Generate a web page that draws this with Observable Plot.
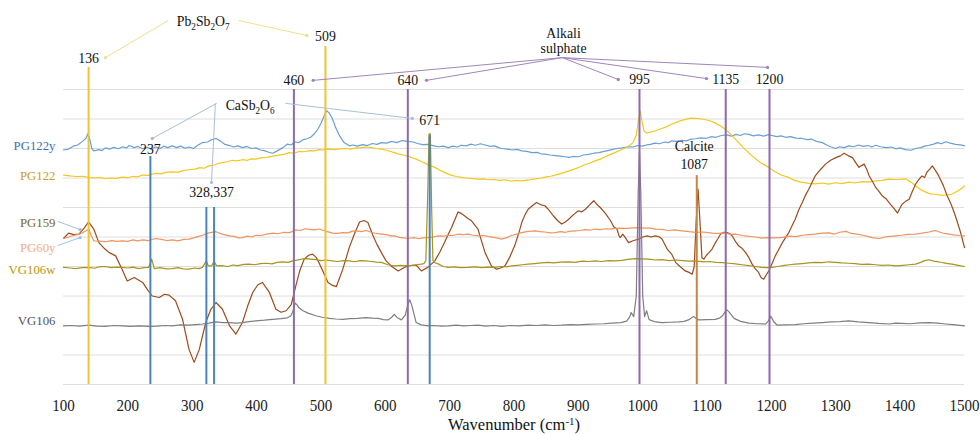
<!DOCTYPE html>
<html><head><meta charset="utf-8">
<script src="https://cdn.jsdelivr.net/npm/d3@7"></script>
<script src="https://cdn.jsdelivr.net/npm/@observablehq/plot@0.6"></script>
<style>html,body{margin:0;padding:0;background:#fff} svg{display:block}</style>
</head><body><div id="chart"></div>
<script>
// Raman spectra (wavenumber cm-1, stacked intensity in arbitrary offset units)
const PG122y = [[100,7.95],[108,7.98],[115,8.08],[122,8.12],[130,8.25],[135,8.35],[138,8.52],[141,8.3],[144,8.0],[147,7.92],[155,7.96],[160,7.93],[165,8.02],[172,7.98],[178,8.04],[185,7.99],[192,8.06],[198,8.02],[202,8.1],[210,8.03],[216,8.07],[223,7.99],[230,8.04],[236,7.98],[243,8.05],[250,8.0],[256,8.08],[262,8.03],[269,8.09],[276,8.03],[282,8.08],[289,8.01],[295,8.05],[302,8.0],[308,8.1],[316,8.2],[324,8.22],[330,8.3],[337,8.34],[344,8.25],[350,8.15],[358,8.1],[364,8.05],[371,8.09],[378,8.03],[385,8.07],[392,8.0],[399,8.02],[406,7.95],[412,7.93],[418,7.88],[425,7.84],[432,7.92],[441,8.03],[448,8.15],[454,8.12],[459,8.23],[466,8.2],[472,8.3],[477,8.32],[484,8.38],[490,8.5],[495,8.65],[500,8.85],[505,9.1],[509,9.28],[513,9.2],[518,9.0],[523,8.7],[529,8.43],[536,8.2],[544,8.09],[550,8.12],[556,8.08],[565,8.13],[572,8.1],[580,8.17],[587,8.14],[594,8.2],[602,8.18],[610,8.24],[618,8.2],[626,8.27],[635,8.24],[643,8.22],[650,8.17],[658,8.13],[666,8.14],[674,8.1],[682,8.06],[690,8.08],[698,8.03],[705,8.08],[712,8.05],[718,8.11],[726,8.09],[733,8.15],[740,8.11],[748,8.16],[755,8.12],[763,8.07],[770,8.09],[776,8.03],[781,8.0],[790,7.98],[797,7.95],[805,7.97],[812,7.92],[820,7.9],[828,7.86],[836,7.87],[842,7.82],[848,7.81],[856,7.78],[864,7.76],[872,7.74],[880,7.72],[885,7.7],[892,7.73],[900,7.72],[908,7.78],[916,7.8],[924,7.84],[932,7.86],[940,7.9],[946,7.93],[952,7.96],[960,8.0],[968,8.02],[978,8.06],[985,8.05],[992,8.1],[999,8.08],[1006,8.12],[1012,8.14],[1019,8.18],[1026,8.16],[1034,8.22],[1040,8.2],[1045,8.26],[1052,8.24],[1060,8.28],[1068,8.26],[1075,8.32],[1082,8.33],[1090,8.36],[1098,8.34],[1106,8.4],[1114,8.38],[1122,8.44],[1131,8.46],[1138,8.42],[1145,8.48],[1152,8.44],[1158,8.5],[1165,8.48],[1172,8.43],[1180,8.46],[1188,8.42],[1195,8.47],[1201,8.44],[1208,8.4],[1215,8.43],[1222,8.38],[1230,8.4],[1238,8.35],[1248,8.34],[1255,8.3],[1262,8.32],[1270,8.24],[1279,8.2],[1286,8.12],[1293,8.05],[1300,8.0],[1306,8.06],[1313,8.03],[1320,8.09],[1328,8.06],[1335,8.12],[1342,8.07],[1350,8.1],[1356,8.05],[1362,8.11],[1370,8.06],[1378,8.03],[1386,8.05],[1393,7.99],[1400,8.02],[1408,7.96],[1417,7.94],[1424,8.0],[1432,8.03],[1438,8.08],[1445,8.11],[1452,8.15],[1458,8.2],[1464,8.16],[1471,8.23],[1478,8.18],[1486,8.14],[1493,8.12],[1500,8.1]];
const PG122 = [[100,7.1],[110,7.07],[120,7.05],[130,7.06],[139,7.02],[148,7.0],[156,7.02],[165,6.98],[174,7.0],[182,6.99],[191,7.03],[200,7.01],[208,7.06],[215,7.04],[223,7.1],[232,7.09],[243,7.16],[252,7.14],[260,7.2],[269,7.21],[278,7.19],[286,7.25],[295,7.28],[304,7.3],[312,7.35],[319,7.33],[326,7.41],[335,7.44],[341,7.5],[347,7.52],[355,7.55],[362,7.6],[370,7.58],[378,7.62],[386,7.6],[392,7.65],[399,7.64],[408,7.69],[416,7.7],[425,7.74],[433,7.77],[442,7.8],[451,7.86],[458,7.84],[466,7.9],[474,7.89],[482,7.93],[490,7.92],[497,7.96],[503,7.95],[511,7.98],[520,7.96],[529,7.99],[538,8.0],[546,7.98],[555,8.02],[562,8.03],[570,8.05],[578,8.03],[586,8.0],[594,7.98],[602,7.94],[608,7.9],[614,7.86],[620,7.82],[628,7.78],[635,7.74],[642,7.68],[649,7.63],[656,7.56],[664,7.48],[670,7.42],[677,7.36],[684,7.27],[691,7.2],[698,7.13],[705,7.08],[711,7.05],[718,7.02],[726,7.0],[735,6.98],[744,6.96],[752,6.97],[760,6.94],[770,6.95],[778,6.92],[786,6.94],[796,6.89],[804,6.92],[812,6.9],[820,6.93],[827,6.95],[833,6.97],[842,7.0],[850,7.04],[857,7.06],[864,7.1],[872,7.15],[880,7.2],[888,7.26],[895,7.31],[903,7.38],[910,7.45],[918,7.51],[926,7.58],[934,7.64],[942,7.72],[950,7.8],[957,7.86],[964,7.93],[971,8.0],[978,8.08],[985,8.2],[990,8.45],[993,8.9],[996,9.28],[999,8.9],[1002,8.6],[1006,8.52],[1012,8.56],[1020,8.6],[1030,8.68],[1038,8.75],[1045,8.82],[1056,8.92],[1065,8.98],[1074,9.03],[1082,9.02],[1092,9.0],[1103,8.95],[1113,8.86],[1123,8.74],[1133,8.56],[1144,8.32],[1156,8.04],[1170,7.75],[1183,7.52],[1196,7.36],[1205,7.22],[1215,7.1],[1227,7.02],[1236,6.92],[1246,6.86],[1258,6.82],[1268,6.8],[1278,6.83],[1289,6.79],[1300,6.84],[1310,6.81],[1320,6.86],[1330,6.83],[1341,6.88],[1351,6.86],[1362,6.9],[1372,6.92],[1383,6.96],[1395,6.95],[1409,6.97],[1417,6.86],[1424,6.73],[1434,6.58],[1445,6.47],[1456,6.44],[1465,6.41],[1471,6.42],[1480,6.45],[1486,6.52],[1494,6.62],[1500,6.73]];
const PG159 = [[100,4.95],[108,5.13],[116,5.08],[124,5.1],[132,5.3],[139,5.51],[147,5.27],[155,4.81],[163,4.62],[171,4.47],[181,4.36],[191,3.91],[199,3.51],[210,3.63],[223,3.46],[231,3.2],[238,3.0],[249,2.95],[257,3.06],[264,3.03],[274,2.84],[285,2.21],[295,1.19],[303,0.75],[311,1.19],[321,2.1],[329,2.55],[337,2.78],[347,2.55],[358,1.99],[368,1.71],[378,2.1],[386,2.65],[394,3.12],[402,3.38],[409,3.46],[420,3.12],[430,2.55],[438,2.45],[446,2.5],[454,2.72],[461,3.34],[467,3.85],[474,4.25],[481,4.38],[487,4.42],[493,4.3],[498,4.08],[505,3.75],[511,3.46],[518,3.36],[524,3.32],[534,3.91],[544,4.64],[552,5.1],[560,5.51],[567,5.56],[573,5.49],[581,5.04],[587,4.75],[594,4.47],[601,4.2],[609,4.02],[620,3.85],[628,3.95],[635,4.02],[648,4.05],[656,3.85],[666,3.97],[677,4.19],[685,4.5],[692,4.81],[698,5.1],[703,5.32],[713,5.85],[718,5.8],[723,5.72],[729,5.62],[734,5.55],[744,5.27],[749,4.9],[755,4.47],[765,4.02],[773,3.91],[779,3.95],[786,4.02],[793,4.3],[801,4.7],[807,5.1],[812,5.49],[817,5.75],[822,5.94],[828,6.05],[835,6.17],[841,6.1],[848,6.06],[854,5.92],[861,5.72],[868,5.55],[874,5.44],[879,5.5],[885,5.6],[892,5.75],[900,5.89],[905,5.85],[911,5.94],[918,6.1],[924,6.23],[929,6.1],[934,6.0],[942,5.8],[950,5.55],[955,5.35],[960,5.27],[963,5.05],[965,4.98],[969,5.1],[973,4.98],[978,4.81],[986,4.88],[994,4.93],[1000,5.0],[1007,5.04],[1013,5.0],[1020,5.04],[1026,5.0],[1030,4.93],[1038,4.59],[1045,4.42],[1051,4.14],[1058,4.0],[1066,3.85],[1072,3.8],[1077,3.74],[1080,4.0],[1083,5.5],[1086,6.62],[1089,5.5],[1092,4.3],[1095,4.25],[1099,4.38],[1103,4.47],[1108,4.6],[1113,4.81],[1117,4.95],[1121,5.1],[1126,5.16],[1131,5.15],[1135,5.12],[1139,5.04],[1144,4.85],[1149,4.7],[1154,4.62],[1160,4.47],[1165,4.3],[1170,4.08],[1175,3.92],[1180,3.8],[1184,3.62],[1188,3.57],[1192,3.72],[1196,3.85],[1201,4.1],[1206,4.36],[1212,4.6],[1217,4.81],[1222,4.98],[1227,5.15],[1232,5.38],[1237,5.6],[1242,5.9],[1248,6.17],[1253,6.42],[1258,6.62],[1263,6.85],[1268,7.07],[1276,7.28],[1284,7.47],[1292,7.6],[1300,7.69],[1307,7.75],[1313,7.84],[1319,7.76],[1326,7.69],[1331,7.52],[1336,7.36],[1340,7.42],[1344,7.47],[1348,7.3],[1352,7.07],[1357,6.88],[1362,6.68],[1367,6.55],[1372,6.4],[1378,6.3],[1385,6.11],[1390,5.98],[1396,5.81],[1399,5.95],[1403,6.11],[1408,6.2],[1414,6.28],[1419,6.55],[1424,6.79],[1429,6.95],[1434,7.07],[1438,7.02],[1442,7.21],[1446,7.3],[1450,7.41],[1455,7.25],[1460,7.07],[1467,6.75],[1473,6.4],[1479,6.12],[1484,5.83],[1489,5.5],[1494,5.15],[1500,4.64]];
const PG60y = [[100,4.95],[108,5.0],[115,5.05],[123,5.09],[130,5.15],[136,5.22],[139,5.27],[143,5.05],[147,4.87],[156,4.86],[165,4.84],[175,4.88],[183,4.85],[191,4.87],[200,4.85],[208,4.9],[215,4.87],[223,4.9],[232,4.88],[243,4.95],[252,4.92],[260,4.88],[269,4.9],[278,4.87],[287,4.92],[295,4.93],[304,4.98],[310,5.02],[316,5.06],[326,5.14],[337,5.18],[346,5.1],[358,5.04],[366,5.02],[372,4.97],[378,4.98],[386,5.03],[393,5.0],[399,5.06],[407,5.05],[416,5.1],[425,5.13],[434,5.11],[442,5.16],[451,5.15],[457,5.2],[461,5.24],[468,5.22],[475,5.28],[482,5.26],[490,5.24],[497,5.27],[503,5.23],[510,5.18],[518,5.13],[526,5.12],[534,5.15],[542,5.14],[549,5.2],[555,5.21],[563,5.18],[570,5.22],[578,5.16],[586,5.12],[594,5.1],[602,5.08],[609,5.04],[614,5.04],[622,4.99],[628,4.97],[635,4.95],[644,4.98],[652,4.94],[659,4.97],[666,4.98],[674,5.0],[682,5.04],[690,5.03],[698,5.06],[706,5.05],[713,5.1],[721,5.08],[729,5.1],[737,5.06],[745,5.04],[753,5.05],[760,5.02],[768,4.99],[775,4.96],[781,4.93],[789,4.98],[796,5.05],[804,5.1],[812,5.15],[820,5.18],[827,5.2],[833,5.21],[840,5.18],[848,5.17],[856,5.14],[864,5.15],[872,5.18],[880,5.16],[888,5.2],[895,5.21],[903,5.22],[910,5.25],[918,5.23],[926,5.27],[934,5.25],[942,5.28],[950,5.27],[957,5.29],[966,5.3],[975,5.29],[985,5.31],[994,5.32],[1003,5.3],[1012,5.3],[1020,5.27],[1030,5.26],[1040,5.22],[1050,5.24],[1061,5.21],[1072,5.18],[1083,5.16],[1094,5.17],[1108,5.13],[1118,5.12],[1128,5.14],[1136,5.09],[1144,5.1],[1155,5.05],[1165,5.02],[1175,5.0],[1185,4.96],[1195,4.98],[1205,4.97],[1217,4.99],[1228,5.03],[1238,5.01],[1248,5.06],[1258,5.08],[1268,5.1],[1279,5.13],[1290,5.14],[1298,5.1],[1306,5.16],[1316,5.19],[1324,5.12],[1333,5.1],[1342,5.06],[1350,5.02],[1358,4.97],[1368,4.95],[1376,5.0],[1384,5.02],[1393,5.04],[1402,5.06],[1412,5.09],[1424,5.1],[1434,5.13],[1445,5.17],[1450,5.2],[1455,5.22],[1462,5.16],[1469,5.12],[1476,5.1],[1483,5.07],[1492,5.05],[1500,5.04]];
const VG106w = [[100,3.97],[110,3.95],[119,3.93],[129,3.96],[139,3.97],[148,3.94],[156,3.99],[165,4.0],[174,3.96],[182,3.98],[191,3.97],[200,3.95],[208,3.98],[217,3.93],[225,3.96],[232,3.97],[235,4.1],[237,4.25],[239,4.1],[241,3.93],[250,3.96],[260,3.92],[269,3.93],[278,3.96],[286,3.92],[295,3.91],[304,3.95],[310,3.93],[316,3.97],[322,4.19],[325,4.02],[330,4.02],[334,4.17],[338,4.02],[346,4.03],[355,4.0],[363,4.05],[371,4.03],[380,4.07],[389,4.08],[397,4.06],[406,4.1],[415,4.11],[424,4.09],[432,4.14],[441,4.16],[449,4.14],[458,4.2],[467,4.23],[472,4.26],[477,4.27],[484,4.25],[492,4.23],[500,4.2],[509,4.22],[518,4.19],[526,4.17],[535,4.2],[544,4.19],[552,4.16],[561,4.2],[570,4.19],[578,4.17],[586,4.15],[594,4.14],[604,4.06],[614,4.02],[624,4.04],[635,4.02],[646,4.05],[656,4.08],[660,4.1],[663,4.2],[666,6.5],[668,8.5],[670,8.5],[672,6.0],[674,4.2],[678,4.12],[683,4.08],[690,4.0],[698,3.97],[707,3.99],[716,3.96],[729,3.97],[740,3.99],[750,3.96],[760,3.98],[770,3.97],[780,4.0],[788,3.99],[796,4.02],[805,4.04],[813,4.06],[822,4.08],[832,4.1],[842,4.12],[853,4.14],[862,4.12],[872,4.15],[885,4.16],[895,4.14],[906,4.18],[916,4.17],[926,4.19],[936,4.17],[947,4.2],[957,4.19],[967,4.21],[977,4.24],[988,4.27],[998,4.26],[1009,4.25],[1020,4.22],[1030,4.23],[1041,4.2],[1052,4.22],[1062,4.2],[1072,4.18],[1082,4.19],[1094,4.16],[1104,4.17],[1114,4.14],[1124,4.13],[1134,4.11],[1144,4.09],[1154,4.06],[1165,4.03],[1175,4.0],[1185,3.97],[1193,3.96],[1201,3.97],[1210,4.0],[1220,4.04],[1228,4.06],[1237,4.08],[1248,4.1],[1258,4.12],[1268,4.14],[1279,4.13],[1289,4.16],[1299,4.14],[1310,4.12],[1320,4.11],[1330,4.1],[1340,4.07],[1351,4.08],[1362,4.06],[1372,4.04],[1382,4.05],[1393,4.02],[1404,4.04],[1414,4.06],[1424,4.08],[1432,4.14],[1438,4.2],[1445,4.23],[1452,4.18],[1460,4.16],[1468,4.12],[1474,4.1],[1481,4.08],[1490,4.04],[1500,4.0]];
const VG106 = [[100,1.99],[112,2.0],[125,1.98],[139,2.01],[152,1.98],[165,1.97],[178,2.0],[191,1.99],[204,1.97],[218,1.99],[232,1.97],[245,1.98],[258,2.0],[269,1.99],[282,2.02],[295,2.01],[305,2.03],[316,2.05],[326,2.08],[337,2.12],[347,2.1],[358,2.1],[368,2.08],[378,2.1],[388,2.13],[399,2.16],[412,2.18],[425,2.21],[438,2.23],[448,2.26],[453,2.32],[456,2.45],[460,2.76],[463,2.7],[466,2.6],[472,2.5],[480,2.42],[492,2.33],[502,2.28],[513,2.24],[523,2.22],[534,2.21],[545,2.23],[557,2.24],[570,2.27],[580,2.25],[589,2.24],[597,2.2],[604,2.19],[610,2.28],[614,2.38],[619,2.26],[625,2.19],[631,2.35],[635,2.7],[638,2.87],[641,2.7],[645,2.35],[648,2.1],[656,2.02],[666,1.99],[676,2.0],[687,1.98],[698,1.99],[710,2.01],[722,1.99],[733,2.0],[744,2.01],[756,1.98],[768,2.0],[781,1.97],[794,2.0],[808,1.99],[822,2.01],[835,2.0],[848,2.02],[861,2.0],[874,2.01],[887,2.03],[900,2.02],[913,2.04],[926,2.05],[939,2.06],[952,2.08],[966,2.1],[975,2.15],[980,2.3],[982,2.44],[986,2.3],[990,3.0],[993,6.5],[995,7.92],[997,6.5],[1000,3.0],[1003,2.3],[1006,2.5],[1010,2.2],[1020,2.12],[1030,2.1],[1043,2.11],[1056,2.12],[1064,2.14],[1071,2.19],[1076,2.26],[1079,2.31],[1083,2.24],[1087,2.19],[1100,2.2],[1113,2.21],[1120,2.26],[1124,2.33],[1128,2.46],[1131,2.53],[1134,2.46],[1137,2.38],[1142,2.24],[1152,2.14],[1165,2.08],[1178,2.06],[1191,2.05],[1195,2.15],[1199,2.31],[1202,2.2],[1204,2.12],[1209,2.01],[1222,2.02],[1237,2.03],[1250,2.06],[1265,2.08],[1279,2.1],[1292,2.12],[1306,2.13],[1320,2.16],[1335,2.12],[1351,2.1],[1367,2.07],[1383,2.05],[1393,2.08],[1403,2.07],[1416,2.06],[1430,2.09],[1445,2.1],[1458,2.08],[1471,2.05],[1486,2.02],[1500,1.99]];

const seriesNames = ["PG122y","PG122","PG159","PG60y","VG106w","VG106"];
const seriesData = [PG122y, PG122, PG159, PG60y, VG106w, VG106];
const seriesLabelY = [8.1, 7.08, 5.49, 4.64, 3.9, 2.17];

// Assigned band positions (where the reference lines are drawn) and their groups
const bandPos   = [139, 235, 322, 334, 458, 507, 635, 669, 995, 1084, 1129, 1197];
const bandTop   = [10.75, 7.73, 6.0, 6.0, 10, 11.46, 10, 8.44, 10, 7.08, 10, 10];
const bandGroup = ["Pb","Ca","Ca","Ca","Alk","Pb","Alk","Ca","Alk","Cal","Alk","Alk"];

const xTicks = [100,200,300,400,500,600,700,800,900,1000,1100,1200,1300,1400,1500];

// Annotation texts (wavenumber, intensity units)
const annText = ["Pb₂Sb₂O₇","136","509","460","640","CaSb₂O₆","671","237","328,337","Alkali","sulphate","995","1135","1200","Calcite","1087"];
const annX    = [317, 139, 507, 458, 635, 390, 669, 235, 330, 877, 877, 995, 1129, 1197, 1080, 1080];
const annY    = [12.31, 11.08, 11.8, 10.31, 10.31, 9.46, 8.98, 7.97, 6.51, 11.93, 11.39, 10.34, 10.34, 10.37, 8.07, 7.49];

// Leader lines: [x1,y1,x2,y2,group]
const leaders = [
  [263,12.34,165,11.08,"Pb"],[372,12.34,478,11.83,"Pb"],
  [338,9.53,238,8.34,"Ca"],[336,9.53,330,6.85,"Ca"],[445,9.53,642,9.02,"Ca"],
  [875,11.08,488,10.31,"Alk"],[875,11.08,664,10.31,"Alk"],[875,11.08,962,10.34,"Alk"],[875,11.08,1099,10.37,"Alk"],[875,11.08,1194,10.75,"Alk"],
  [90.7,5.53,126,5.25,"lab"],[90.7,4.71,126,4.98,"lab"]
];

// ---- styles ----
const lineColor = {PG122y:"#6a9fd4", PG122:"#f2c81e", PG159:"#9a4c1c", PG60y:"#ee9460", VG106w:"#a8931e", VG106:"#7f7f7f"};
const labelColor = {PG122y:"#3f6fb0", PG122:"#c8a020", PG159:"#7c6a1c", PG60y:"#f2ae86", VG106w:"#b8960c", VG106:"#555555"};
const bandColor = {Pb:"#f2c232", Ca:"#4a84bd", Alk:"#8c6aac", Cal:"#c98545"};
const leaderColor = {Pb:"#efe08c", Ca:"#a9c0d6", Alk:"#9f86bb", lab:"#9fc3df"};

const curves = seriesNames.flatMap((n, i) => seriesData[i].map(([w, v]) => ({name: n, w, v})));
const bands = bandPos.map((w, i) => ({w, top: bandTop[i], c: bandColor[bandGroup[i]]}));
const anns = annText.map((t, i) => ({t, x: annX[i], y: annY[i]}));
const leads = leaders.map(([x1,y1,x2,y2,g]) => ({x1,y1,x2,y2,c: leaderColor[g]}));
const labs = seriesNames.map((n, i) => ({n, y: seriesLabelY[i], c: labelColor[n]}));

const font = "Liberation Serif, Times New Roman, serif";
const TICK_FS = 17.5, ANN_FS = 15.5;

const chart = Plot.plot({
  width: 980, height: 434,
  marginLeft: 63, marginRight: 16, marginTop: 89, marginBottom: 50,
  x: {domain: [100, 1500]},
  y: {domain: [0, 10], axis: null},
  color: {type: "identity"},
  style: {fontFamily: font, fontSize: "16px", color: "#222", background: "#fff", overflow: "visible"},
  marks: [
    Plot.gridY(d3.range(0, 11), {stroke: "#dedede", strokeOpacity: 1, strokeWidth: 1}),
    Plot.axisX({ticks: xTicks, tickSize: 0, tickPadding: 14, tickFormat: d => String(d), fontSize: TICK_FS, fontFamily: font, label: null, fill: "#222"}),
    ...seriesNames.map(n => Plot.line(curves.filter(d => d.name === n), {x: "w", y: "v", stroke: lineColor[n], strokeWidth: 1.2, curve: "linear"})),
    Plot.ruleX(bands, {x: "w", y1: 0, y2: "top", stroke: "c", strokeWidth: 2}),
    Plot.link(leads, {x1: "x1", y1: "y1", x2: "x2", y2: "y2", stroke: "c", strokeWidth: 1, markerEnd: "dot"}),
    Plot.text(anns, {x: "x", y: "y", text: "t", fontSize: ANN_FS, fill: "#111", fontFamily: font}),
    Plot.text(labs, {x: 100, y: "y", text: "n", fill: "c", fontSize: 12.8, textAnchor: "end", dx: -8, fontFamily: font}),
    Plot.text(["Wavenumber (cm⁻¹)"], {x: 800, y: -1.36, text: d => d, fontSize: 16.5, fill: "#111", fontFamily: font})
  ]
});

// Render Unicode sub/superscript digits as real smaller, shifted tspans
const subMap = {"₀":"0","₁":"1","₂":"2","₃":"3","₄":"4","₅":"5","₆":"6","₇":"7","₈":"8","₉":"9"};
const supMap = {"⁻":"-","¹":"1","⁰":"0","²":"2","³":"3"};
chart.querySelectorAll("text").forEach(t => {
  const s = t.textContent;
  if (![...s].some(ch => subMap[ch] || supMap[ch])) return;
  const runs = [];
  for (const ch of s) {
    const kind = subMap[ch] ? "sub" : supMap[ch] ? "sup" : "n";
    const c = subMap[ch] || supMap[ch] || ch;
    if (runs.length && runs[runs.length - 1].kind === kind) runs[runs.length - 1].s += c;
    else runs.push({kind, s: c});
  }
  while (t.firstChild) t.removeChild(t.firstChild);
  let shift = 0;
  for (const r of runs) {
    const ts = document.createElementNS("http://www.w3.org/2000/svg", "tspan");
    const target = r.kind === "sub" ? 4 : r.kind === "sup" ? -5 : 0;
    ts.setAttribute("dy", String(target - shift));
    shift = target;
    if (r.kind !== "n") ts.setAttribute("font-size", "66%");
    ts.textContent = r.s;
    t.appendChild(ts);
  }
});
document.getElementById("chart").appendChild(chart);

// The reference's Times-style lettering is horizontally condensed: squeeze glyphs about each text's anchor
chart.querySelectorAll("text").forEach(t => {
  const fs = parseFloat(getComputedStyle(t).fontSize);
  const k = Math.abs(fs - TICK_FS) < 0.05 ? 0.86 : Math.abs(fs - ANN_FS) < 0.05 ? 0.89 : 1;
  if (k === 1) return;
  const tr = t.getAttribute("transform");
  if (tr) t.setAttribute("transform", tr + ` scale(${k},1)`);
  else {
    const x = +(t.getAttribute("x") || 0), y = +(t.getAttribute("y") || 0);
    t.setAttribute("transform", `translate(${x},${y}) scale(${k},1) translate(${-x},${-y})`);
  }
});
</script>
</body></html>
